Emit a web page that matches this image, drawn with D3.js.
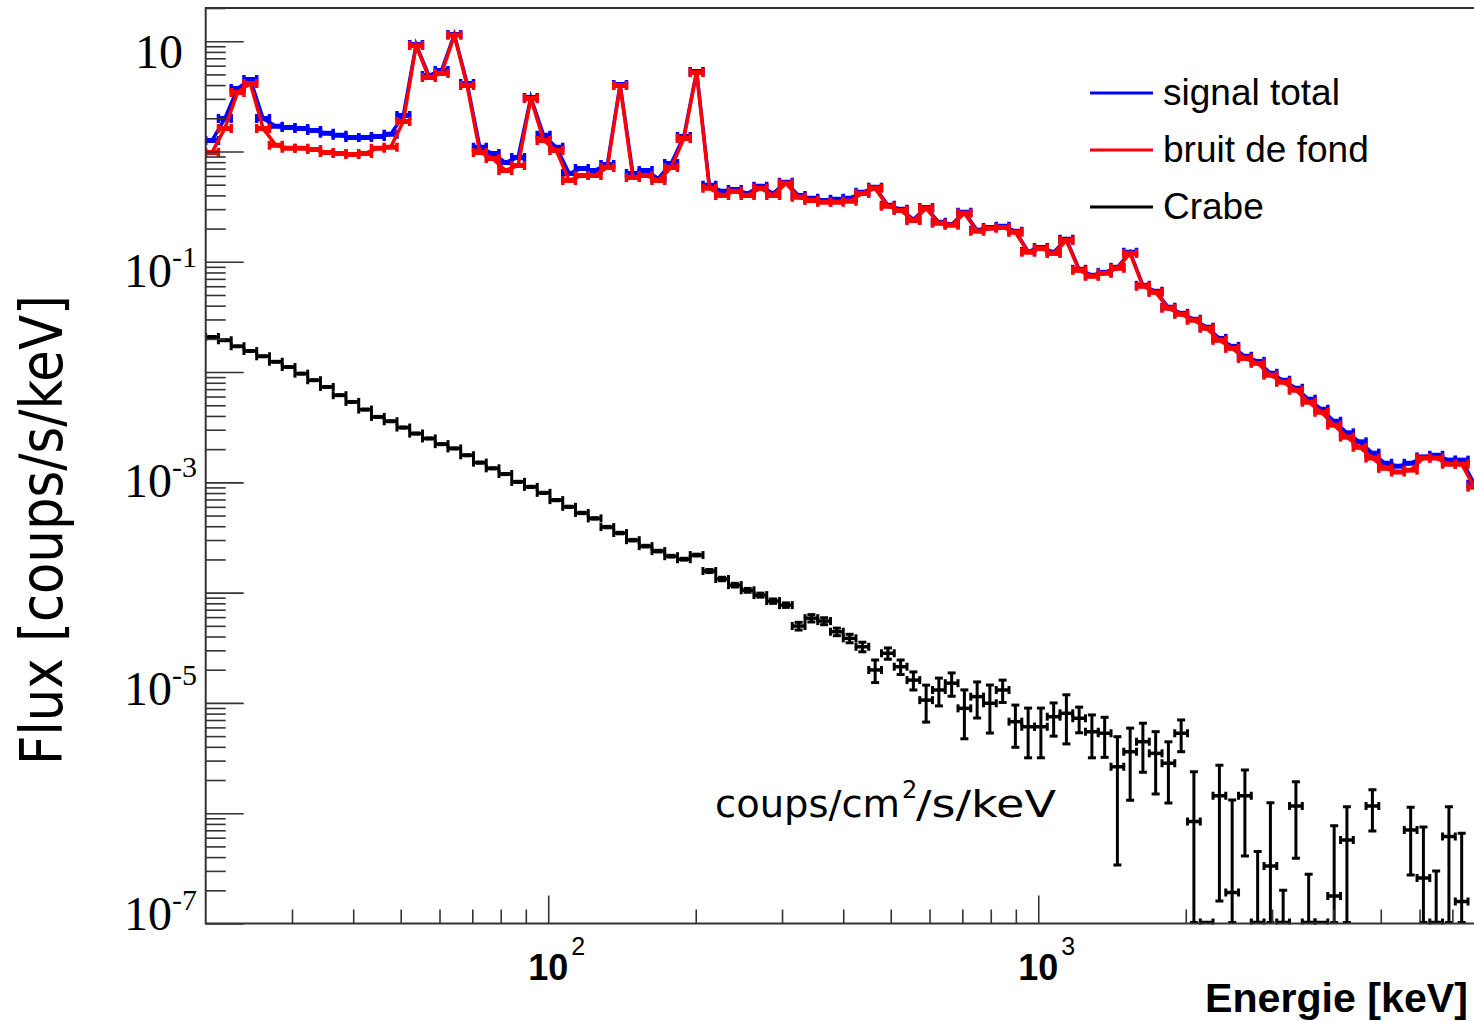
<!DOCTYPE html>
<html>
<head>
<meta charset="utf-8">
<script src="https://cdn.jsdelivr.net/npm/d3@7"></script>
<style>
body { margin: 0; background: #fff; }
svg { display: block; }
</style>
</head>
<body>
<svg id="chart" width="1474" height="1021"></svg>
<script>
// histogram: 100 log bins between 20 keV and 8 MeV
var eMin = 20, eMax = 8000, nBins = 100

// signal total (blue), counts/s/keV
var signalTotal = [
    1.26, 1.99, 3.73, 4.50, 1.99, 1.69, 1.65, 1.62, 1.55, 1.46,
    1.40, 1.34, 1.34, 1.37, 1.43, 2.12, 9.33, 4.89, 5.43, 11.5,
    4.14, 1.09, 0.961, 0.796, 0.884, 3.09, 1.40, 1.09, 0.633, 0.702,
    0.674, 0.763, 4.05, 0.633, 0.674, 0.570, 0.780, 1.37, 5.31, 0.493,
    0.435, 0.453, 0.417, 0.483, 0.417, 0.525, 0.400, 0.376, 0.360, 0.368,
    0.376, 0.426, 0.473, 0.325, 0.299, 0.242, 0.311, 0.228, 0.218, 0.281,
    0.193, 0.205, 0.210, 0.189, 0.124, 0.135, 0.122, 0.160, 0.0854, 0.0754,
    0.0802, 0.0891, 0.122, 0.0612, 0.0540, 0.0387, 0.0341, 0.0301, 0.0255, 0.0202,
    0.0171, 0.0139, 0.0125, 0.00975, 0.00843, 0.00713, 0.00567, 0.00460, 0.00358, 0.00281,
    0.00233, 0.00184, 0.00149, 0.00140, 0.00149, 0.00170, 0.00176, 0.00159, 0.00159, 0.000963
]

// bruit de fond (red)
var bruitDeFond = [
    0.981, 1.62, 3.43, 4.14, 1.62, 1.14, 1.07, 1.07, 1.04, 0.981,
    0.961, 0.941, 0.961, 1.07, 1.09, 1.87, 9.14, 4.69, 5.10, 11.3,
    3.97, 0.981, 0.865, 0.674, 0.748, 3.03, 1.26, 1.02, 0.547, 0.607,
    0.607, 0.717, 3.97, 0.582, 0.607, 0.547, 0.717, 1.31, 5.20, 0.463,
    0.400, 0.435, 0.400, 0.463, 0.400, 0.514, 0.384, 0.360, 0.346, 0.346,
    0.353, 0.417, 0.463, 0.318, 0.292, 0.237, 0.305, 0.223, 0.214, 0.275,
    0.189, 0.201, 0.205, 0.185, 0.122, 0.132, 0.119, 0.156, 0.0836, 0.0738,
    0.0786, 0.0872, 0.119, 0.0599, 0.0528, 0.0379, 0.0334, 0.0295, 0.0249, 0.0194,
    0.0164, 0.0133, 0.0120, 0.00936, 0.00808, 0.00684, 0.00533, 0.00432, 0.00330, 0.00257,
    0.00208, 0.00166, 0.00134, 0.00124, 0.00129, 0.00166, 0.00166, 0.00146, 0.00146, 0.000904
]

// Crabe, coups/cm2/s/keV (null = bin not drawn)
var crabe = [
    2.08e-2, 1.94e-2, 1.71e-2, 1.55e-2, 1.39e-2, 1.24e-2, 1.11e-2, 9.68e-3, 8.43e-3, 7.33e-3,
    6.17e-3, 5.36e-3, 4.57e-3, 3.92e-3, 3.58e-3, 3.14e-3, 2.77e-3, 2.50e-3, 2.22e-3, 2.03e-3,
    1.76e-3, 1.51e-3, 1.34e-3, 1.19e-3, 1.01e-3, 9.10e-4, 8.03e-4, 6.90e-4, 6.00e-4, 5.28e-4,
    4.71e-4, 3.93e-4, 3.47e-4, 2.99e-4, 2.64e-4, 2.38e-4, 2.14e-4, 2.01e-4, 2.19e-4, 1.57e-4,
    1.33e-4, 1.17e-4, 1.05e-4, 9.50e-5, 8.38e-5, 7.71e-5, 4.98e-5, 5.87e-5, 5.52e-5, 4.42e-5,
    3.85e-5, 3.23e-5, 1.99e-5, 2.82e-5, 2.13e-5, 1.61e-5, 1.06e-5, 1.31e-5, 1.51e-5, 8.93e-6,
    1.14e-5, 9.93e-6, 1.31e-5, 6.76e-6, 6.08e-6, 6.08e-6, 7.50e-6, 8.05e-6, 7.26e-6, 5.48e-6,
    5.31e-6, 2.64e-6, 3.61e-6, 4.45e-6, 3.49e-6, 2.84e-6, 5.31e-6, 8.39e-7, 8e-8, 1.44e-6,
    1.91e-7, 1.44e-6, 5e-8, 3.33e-7, 5e-8, 1.16e-6, 5e-8, 8e-8, 1.78e-7, 5.73e-7,
    null, 1.16e-6, null, null, 7.05e-7, 2.59e-7, 5e-8, 6.14e-7, 1.58e-7, null
]

var crabeErr = [
    2e-4, 2e-4, 1.7e-4, 1.5e-4, 1.4e-4, 1.2e-4, 1.1e-4, 1e-4, 8.5e-5, 7.5e-5,
    6.5e-5, 5.5e-5, 4.8e-5, 4.2e-5, 3.8e-5, 3.4e-5, 3e-5, 2.7e-5, 2.4e-5, 2.2e-5,
    2e-5, 1.7e-5, 1.5e-5, 1.4e-5, 1.2e-5, 1.1e-5, 1e-5, 9e-6, 8e-6, 7.5e-6,
    7e-6, 6e-6, 5.5e-6, 5e-6, 4.6e-6, 4.3e-6, 4e-6, 4e-6, 4.2e-6, 5e-6,
    4.8e-6, 4.5e-6, 4.2e-6, 4e-6, 3.8e-6, 3.6e-6, 4e-6, 4.5e-6, 4e-6, 3.5e-6,
    3.4e-6, 3.2e-6, 4.6e-6, 3.3e-6, 3.2e-6, 3.0e-6, 3.9e-6, 3.7e-6, 3.6e-6, 4.2e-6,
    4.1e-6, 4.6e-6, 3.0e-6, 2.8e-6, 2.9e-6, 2.9e-6, 2.5e-6, 3.8e-6, 1.9e-6, 2.3e-6,
    2.1e-6, 2.3e-6, 2.3e-6, 2.1e-6, 2.0e-6, 1.6e-6, 1.7e-6, 1.54e-6, 0, 1.28e-6,
    1.13e-6, 1.03e-6, 4e-7, 9.1e-7, 1.5e-7, 7.7e-7, 2.3e-7, 0, 5.9e-7, 5.7e-7,
    0, 4.7e-7, 0, 0, 4.3e-7, 4.9e-7, 2.5e-7, 5.3e-7, 5.0e-7, 0
]

var yLabelExps = [1, -1, -3, -5, -7]
var xLabelExps = [2, 3]
var legendNames = ["signal total", "bruit de fond", "Crabe"]
var legendColors = ["#0000ff", "#ff0000", "#000000"]

// baseline offset of each y label from its tick (the labels were set by hand)
var yLabelDy = [27, 25, 15, 2, 6.5]

var svg = d3.select("#chart")
var plotLeft = 205.7, plotBottom = 923.5, plotTop = 8

var x = d3.scaleLog().domain([eMin, eMax]).range([plotLeft, 1480.8])
var y = d3.scaleLog().domain([1e-7, 20]).range([plotBottom, plotTop])

// bin edges of the histogram
var edges = d3.range(nBins + 1).map(function(i) { return eMin * Math.pow(eMax / eMin, i / nBins) })

function yc(v) {
    if (v <= 0) return plotBottom - 1
    return Math.max(plotTop, Math.min(plotBottom - 1, y(v)))
}

svg.append("clipPath").attr("id", "clip")
    .append("rect").attr("x", plotLeft).attr("y", plotTop)
    .attr("width", 1474 - plotLeft).attr("height", plotBottom - plotTop + 1)

function binData(vals, errs) {
    var out = []
    vals.forEach(function(v, i) {
        if (v === null) return
        out.push({ lo: edges[i], hi: edges[i + 1], e: Math.sqrt(edges[i] * edges[i + 1]), v: v, err: errs ? errs[i] : 0 })
    })
    return out
}

function drawLineSeries(vals, color) {
    var pts = binData(vals)
    var g = svg.append("g").attr("clip-path", "url(#clip)")
    g.append("path").datum(pts)
        .attr("d", d3.line().x(function(d) { return x(d.e) }).y(function(d) { return yc(d.v) }))
        .attr("fill", "none").attr("stroke", color).attr("stroke-width", 3.5)
    g.selectAll(null).data(pts).enter().append("line")
        .attr("x1", function(d) { return x(d.lo) }).attr("x2", function(d) { return x(d.hi) })
        .attr("y1", function(d) { return yc(d.v) }).attr("y2", function(d) { return yc(d.v) })
        .attr("stroke", color).attr("stroke-width", 5)
    pts.forEach(function(d) {
        [d.lo, d.hi].forEach(function(e) {
            g.append("line")
                .attr("x1", x(e)).attr("x2", x(e))
                .attr("y1", yc(d.v) - 4.5).attr("y2", yc(d.v) + 4.5)
                .attr("stroke", color).attr("stroke-width", 3.5)
        })
    })
}

drawLineSeries(signalTotal, "#0000ff")
drawLineSeries(bruitDeFond, "#ff0000")

// Crabe: points with error bars
var crabPts = binData(crabe, crabeErr)
var gc = svg.append("g").attr("clip-path", "url(#clip)").attr("stroke", "#000").attr("stroke-width", 3)
crabPts.forEach(function(d) {
    var cx = x(d.e), cy = yc(d.v)
    gc.append("line").attr("x1", x(d.lo)).attr("x2", x(d.hi)).attr("y1", cy).attr("y2", cy).attr("stroke-width", 3.5)
    gc.append("line").attr("x1", x(d.lo)).attr("x2", x(d.lo)).attr("y1", cy - 4).attr("y2", cy + 4)
    gc.append("line").attr("x1", x(d.hi)).attr("x2", x(d.hi)).attr("y1", cy - 4).attr("y2", cy + 4)
    if (d.err > 0) {
        var y1 = yc(d.v + d.err), y2 = yc(d.v - d.err)
        gc.append("line").attr("x1", cx).attr("x2", cx).attr("y1", y1).attr("y2", y2)
        gc.append("line").attr("x1", cx - 4).attr("x2", cx + 4).attr("y1", y1).attr("y2", y1)
        gc.append("line").attr("x1", cx - 4).attr("x2", cx + 4).attr("y1", y2).attr("y2", y2)
    }
})

// axes
var yTicks = []
d3.range(-7, 2).forEach(function(e) {
    d3.range(1, 10).forEach(function(k) {
        var v = k * Math.pow(10, e)
        if (v <= 20) yTicks.push(v)
    })
})
var yAxis = svg.append("g").attr("transform", "translate(" + plotLeft + ",0)")
    .call(d3.axisRight(y).tickValues(yTicks).tickSize(20).tickSizeOuter(0).tickFormat(""))
yAxis.select(".domain").remove()
yAxis.selectAll(".tick line")
    .attr("x2", function(d) { return Math.abs(Math.log10(d) - Math.round(Math.log10(d))) < 1e-9 ? 38 : 20 })
    .attr("stroke", "#333").attr("stroke-width", 1.6)

var xTicks = []
d3.range(1, 4).forEach(function(e) {
    d3.range(1, 10).forEach(function(k) {
        var v = k * Math.pow(10, e)
        if (v > eMin && v <= eMax) xTicks.push(v)
    })
})
var xAxis = svg.append("g").attr("transform", "translate(0," + plotBottom + ")")
    .call(d3.axisTop(x).tickValues(xTicks).tickSize(14).tickSizeOuter(0).tickFormat(""))
xAxis.select(".domain").remove()
xAxis.selectAll(".tick line")
    .attr("y2", function(d) { return Math.abs(Math.log10(d) - Math.round(Math.log10(d))) < 1e-9 ? -28 : -14 })
    .attr("stroke", "#333").attr("stroke-width", 1.6)

// frame
svg.append("path")
    .attr("d", "M1474," + plotTop + "H" + plotLeft + "V" + plotBottom + "H1474")
    .attr("fill", "none").attr("stroke", "#333").attr("stroke-width", 2)

// y tick labels
yLabelExps.forEach(function(e, i) {
    var t = svg.append("text")
        .attr("y", y(Math.pow(10, e)) + yLabelDy[i])
        .attr("font-family", "'Liberation Serif', 'Times New Roman', serif")
        .attr("font-size", 48).attr("text-anchor", "end").attr("fill", "#000")
    if (e === 1) {
        t.attr("x", 183).text("10")
    } else {
        t.attr("x", 197)
        t.append("tspan").text("10")
        t.append("tspan").attr("font-size", 30).attr("dy", -20).text(e)
    }
})

// x tick labels
xLabelExps.forEach(function(e) {
    var t = svg.append("text")
        .attr("x", x(Math.pow(10, e)) - 20).attr("y", 980)
        .attr("font-family", "'Liberation Sans', Arial, sans-serif")
        .attr("font-weight", "bold").attr("font-size", 36).attr("fill", "#000")
    t.append("tspan").text("10")
    t.append("tspan").attr("font-size", 25).attr("font-weight", "normal").attr("dx", 3).attr("dy", -25).text(e)
})

svg.append("text")
    .attr("x", 1468).attr("y", 1012).attr("text-anchor", "end")
    .attr("font-family", "'Liberation Sans', Arial, sans-serif")
    .attr("font-weight", "bold").attr("font-size", 40)
    .attr("textLength", 263).attr("lengthAdjust", "spacingAndGlyphs")
    .text("Energie [keV]")

svg.append("text")
    .attr("transform", "translate(62,530) rotate(-90)")
    .attr("text-anchor", "middle")
    .attr("font-family", "'DejaVu Sans', sans-serif").attr("font-size", 58)
    .attr("textLength", 470).attr("lengthAdjust", "spacingAndGlyphs")
    .text("Flux [coups/s/keV]")

// unit note for Crabe
var noteFont = "'DejaVu Sans', sans-serif"
svg.append("text").attr("x", 715).attr("y", 817)
    .attr("font-family", noteFont).attr("font-size", 38)
    .attr("textLength", 185).attr("lengthAdjust", "spacingAndGlyphs")
    .text("coups/cm")
svg.append("text").attr("x", 902).attr("y", 798)
    .attr("font-family", noteFont).attr("font-size", 24)
    .text("2")
svg.append("text").attr("x", 916).attr("y", 817)
    .attr("font-family", noteFont).attr("font-size", 38)
    .attr("textLength", 140).attr("lengthAdjust", "spacingAndGlyphs")
    .text("/s/keV")

// legend
var legend = svg.append("g")
legendNames.forEach(function(name, i) {
    var ly = 93 + i * 57
    legend.append("line").attr("x1", 1090).attr("x2", 1153).attr("y1", ly).attr("y2", ly)
        .attr("stroke", legendColors[i]).attr("stroke-width", 3)
    legend.append("text").attr("x", 1163).attr("y", ly + 12)
        .attr("font-family", "'Liberation Sans', Arial, sans-serif").attr("font-size", 37)
        .text(name)
})
</script>
</body>
</html>
